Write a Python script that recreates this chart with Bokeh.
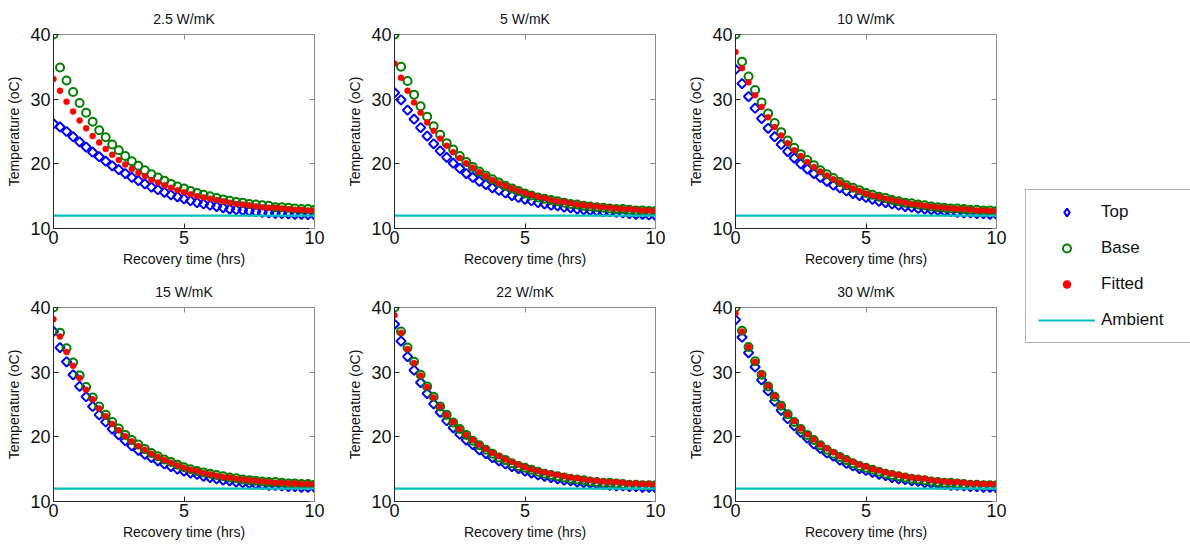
import numpy as np
from bokeh.plotting import figure
from bokeh.layouts import row, column
from bokeh.models import (ColumnDataSource, FixedTicker, LinearAxis, Legend,
                          LegendItem, Range1d)
from bokeh.embed import file_html
from bokeh.resources import INLINE

# ---------------- data ----------------
time_hrs = [i * 0.25 for i in range(41)]          # sampling times, 0..10 h
ambient_temp = 12.0

panel_titles = ["2.5 W/mK", "5 W/mK", "10 W/mK", "15 W/mK", "22 W/mK", "30 W/mK"]
series_names = ["Top", "Base", "Fitted", "Ambient"]

top_2p5 = [26.2, 25.7, 25.0, 24.2, 23.4, 22.6, 21.8, 21.1, 20.4, 19.7, 19.1, 18.5, 17.9,
           17.4, 16.9, 16.4, 16.0, 15.6, 15.2, 14.9, 14.6, 14.3, 14.0, 13.8, 13.6, 13.4,
           13.2, 13.0, 12.9, 12.8, 12.7, 12.6, 12.5, 12.4, 12.35, 12.3, 12.25, 12.2, 12.2,
           12.15, 12.1]
base_2p5 = [40.0, 34.9, 32.9, 31.1, 29.4, 27.9, 26.5, 25.2, 24.1, 23.0, 22.1, 21.2, 20.4,
            19.7, 19.0, 18.4, 17.9, 17.4, 16.9, 16.5, 16.2, 15.8, 15.5, 15.2, 15.0, 14.7,
            14.5, 14.3, 14.1, 14.0, 13.8, 13.7, 13.6, 13.5, 13.3, 13.3, 13.2, 13.1, 13.0,
            13.0, 12.9]
fitted_2p5 = [33.1, 31.3, 29.6, 28.1, 26.7, 25.5, 24.3, 23.3, 22.3, 21.4, 20.6, 19.9, 19.2,
              18.6, 18.1, 17.5, 17.1, 16.7, 16.3, 15.9, 15.6, 15.3, 15.0, 14.8, 14.6, 14.4,
              14.2, 14.0, 13.8, 13.7, 13.6, 13.4, 13.3, 13.2, 13.2, 13.1, 13.0, 12.9, 12.9,
              12.8, 12.8]

top_5 = [31.0, 29.9, 28.3, 26.9, 25.6, 24.3, 23.1, 22.0, 21.0, 20.1, 19.3, 18.5, 17.9,
         17.3, 16.8, 16.3, 15.9, 15.5, 15.1, 14.8, 14.5, 14.3, 14.0, 13.8, 13.6, 13.5,
         13.3, 13.2, 13.0, 12.9, 12.8, 12.7, 12.6, 12.6, 12.5, 12.4, 12.3, 12.2, 12.2,
         12.1, 12.0]
base_5 = [40.0, 35.0, 32.8, 30.7, 28.9, 27.3, 25.8, 24.5, 23.2, 22.2, 21.2, 20.3, 19.5,
          18.8, 18.2, 17.6, 17.1, 16.6, 16.2, 15.8, 15.4, 15.1, 14.8, 14.6, 14.4, 14.2,
          14.0, 13.8, 13.7, 13.5, 13.4, 13.3, 13.2, 13.1, 13.0, 13.0, 12.9, 12.8, 12.8,
          12.7, 12.7]
fitted_5 = [35.5, 33.3, 31.3, 29.5, 27.9, 26.4, 25.1, 23.9, 22.8, 21.8, 20.9, 20.1, 19.4,
            18.7, 18.1, 17.5, 17.0, 16.6, 16.2, 15.8, 15.5, 15.2, 14.9, 14.7, 14.4, 14.2,
            14.1, 13.9, 13.7, 13.6, 13.5, 13.4, 13.3, 13.2, 13.1, 13.0, 13.0, 12.9, 12.8,
            12.8, 12.7]

top_10 = [34.6, 32.4, 30.4, 28.6, 27.0, 25.5, 24.2, 23.0, 21.9, 20.9, 20.0, 19.2, 18.5,
          17.9, 17.3, 16.7, 16.3, 15.8, 15.4, 15.1, 14.8, 14.5, 14.2, 14.0, 13.8, 13.6,
          13.4, 13.3, 13.1, 13.0, 12.9, 12.8, 12.7, 12.6, 12.5, 12.4, 12.4, 12.3, 12.3,
          12.2, 12.2]
base_10 = [40.0, 35.8, 33.5, 31.4, 29.5, 27.8, 26.3, 24.9, 23.6, 22.5, 21.5, 20.6, 19.8,
           19.0, 18.4, 17.8, 17.2, 16.7, 16.3, 15.9, 15.5, 15.2, 14.9, 14.7, 14.4, 14.2,
           14.0, 13.9, 13.7, 13.6, 13.4, 13.3, 13.2, 13.1, 13.1, 13.0, 12.9, 12.9, 12.8,
           12.8, 12.7]
fitted_10 = [37.3, 34.8, 32.6, 30.6, 28.8, 27.2, 25.7, 24.4, 23.2, 22.1, 21.2, 20.3, 19.5,
             18.8, 18.2, 17.6, 17.1, 16.6, 16.2, 15.8, 15.4, 15.1, 14.9, 14.6, 14.4, 14.2,
             14.0, 13.8, 13.7, 13.5, 13.4, 13.3, 13.2, 13.1, 13.0, 13.0, 12.9, 12.8, 12.8,
             12.7, 12.7]

top_15 = [36.3, 33.8, 31.6, 29.6, 27.8, 26.2, 24.7, 23.4, 22.3, 21.2, 20.3, 19.4, 18.6,
          17.9, 17.3, 16.8, 16.3, 15.8, 15.4, 15.0, 14.7, 14.4, 14.2, 13.9, 13.7, 13.5,
          13.3, 13.2, 13.0, 12.9, 12.8, 12.7, 12.6, 12.5, 12.5, 12.4, 12.3, 12.3, 12.2,
          12.2, 12.2]
base_15 = [40.0, 36.1, 33.7, 31.5, 29.5, 27.7, 26.1, 24.7, 23.4, 22.3, 21.3, 20.3, 19.5,
           18.8, 18.1, 17.5, 17.0, 16.5, 16.1, 15.7, 15.3, 15.0, 14.7, 14.5, 14.3, 14.1,
           13.9, 13.7, 13.6, 13.4, 13.3, 13.2, 13.1, 13.0, 13.0, 12.9, 12.8, 12.8, 12.7,
           12.7, 12.6]
fitted_15 = [38.2, 35.5, 33.1, 31.0, 29.1, 27.3, 25.8, 24.4, 23.2, 22.0, 21.0, 20.1, 19.3,
             18.6, 18.0, 17.4, 16.9, 16.4, 16.0, 15.6, 15.2, 14.9, 14.7, 14.4, 14.2, 14.0,
             13.8, 13.7, 13.5, 13.4, 13.3, 13.2, 13.1, 13.0, 12.9, 12.9, 12.8, 12.8, 12.7,
             12.7, 12.6]

top_22 = [37.4, 34.8, 32.4, 30.3, 28.4, 26.7, 25.1, 23.8, 22.5, 21.4, 20.4, 19.5, 18.8,
          18.0, 17.4, 16.8, 16.3, 15.8, 15.4, 15.1, 14.7, 14.4, 14.1, 13.9, 13.7, 13.5,
          13.3, 13.2, 13.0, 12.9, 12.8, 12.7, 12.6, 12.5, 12.4, 12.4, 12.3, 12.3, 12.2,
          12.2, 12.1]
base_22 = [40.0, 36.3, 33.8, 31.6, 29.6, 27.8, 26.2, 24.7, 23.4, 22.2, 21.2, 20.3, 19.4,
           18.7, 18.0, 17.4, 16.8, 16.4, 15.9, 15.5, 15.2, 14.9, 14.6, 14.3, 14.1, 13.9,
           13.7, 13.5, 13.4, 13.3, 13.1, 13.0, 12.9, 12.9, 12.8, 12.7, 12.6, 12.6, 12.5,
           12.5, 12.5]
fitted_22 = [38.8, 36.1, 33.6, 31.4, 29.5, 27.7, 26.1, 24.7, 23.4, 22.3, 21.2, 20.3, 19.5,
             18.8, 18.1, 17.5, 17.0, 16.5, 16.1, 15.7, 15.3, 15.0, 14.7, 14.5, 14.3, 14.1,
             13.9, 13.7, 13.6, 13.4, 13.3, 13.2, 13.1, 13.0, 13.0, 12.9, 12.8, 12.8, 12.7,
             12.7, 12.6]

top_30 = [38.1, 35.4, 33.0, 30.8, 28.8, 27.1, 25.5, 24.1, 22.8, 21.7, 20.7, 19.8, 18.9,
          18.2, 17.5, 17.0, 16.4, 15.9, 15.5, 15.1, 14.8, 14.5, 14.2, 14.0, 13.7, 13.5,
          13.4, 13.2, 13.1, 12.9, 12.8, 12.7, 12.6, 12.5, 12.5, 12.4, 12.3, 12.3, 12.2,
          12.2, 12.1]
base_30 = [40.0, 36.4, 33.9, 31.7, 29.6, 27.8, 26.2, 24.8, 23.5, 22.3, 21.2, 20.3, 19.5,
           18.7, 18.0, 17.4, 16.9, 16.4, 15.9, 15.5, 15.2, 14.9, 14.6, 14.3, 14.1, 13.9,
           13.7, 13.5, 13.4, 13.3, 13.1, 13.0, 12.9, 12.9, 12.8, 12.7, 12.6, 12.6, 12.5,
           12.5, 12.5]
fitted_30 = [39.1, 36.3, 33.9, 31.6, 29.7, 27.9, 26.3, 24.8, 23.5, 22.4, 21.3, 20.4, 19.6,
             18.8, 18.2, 17.6, 17.0, 16.5, 16.1, 15.7, 15.4, 15.0, 14.8, 14.5, 14.3, 14.1,
             13.9, 13.7, 13.6, 13.5, 13.3, 13.2, 13.1, 13.0, 13.0, 12.9, 12.8, 12.8, 12.7,
             12.7, 12.7]

x_ticks = [0, 5, 10]
y_ticks = [10, 20, 30, 40]

# ---------------- styling ----------------
FONT = "Liberation Sans"
BLUE = "#0000ff"
GREEN = "#008000"
RED = "#ff0000"
CYAN = "#00bfbf"
AX_DARK = "#262626"
AX_LIGHT = "#8c8c8c"


def make_source(top, base, fitted):
    n = len(time_hrs)
    return ColumnDataSource(dict(t=time_hrs[:n], top=top[:n], base=base[:n],
                                 fitted=fitted[:n], amb=[ambient_temp] * n))


def draw_series(p, src, legend_style=False):
    if legend_style:
        r_top = p.scatter("t", "top", source=src, marker="diamond", size=13,
                          fill_color=None, line_color=BLUE, line_width=2.2)
    else:
        r_top = p.scatter("t", "top", source=src, marker="square", angle=np.pi / 4, size=6.6,
                          fill_color=None, line_color=BLUE, line_width=2)
    r_base = p.scatter("t", "base", source=src, marker="circle", size=8,
                       fill_color=None, line_color=GREEN, line_width=2)
    r_fit = p.scatter("t", "fitted", source=src, marker="circle", size=6,
                      fill_color=RED, line_color=RED, line_width=0.5)
    r_amb = p.line("t", "amb", source=src, line_color=CYAN, line_width=2.2)
    return r_top, r_base, r_fit, r_amb


def tick_only_axis(ticks):
    # box-edge axis: inward ticks only, labels not drawn
    return LinearAxis(ticker=FixedTicker(ticks=ticks), major_label_text_font_size="1px",
                      major_label_text_color=None, major_label_standoff=0,
                      major_tick_in=5, major_tick_out=0, minor_tick_line_color=None,
                      axis_line_color=AX_LIGHT, major_tick_line_color=AX_LIGHT)


def make_panel(title, top, base, fitted):
    p = figure(width=341, height=273, output_backend="svg", toolbar_location=None,
               x_range=Range1d(0, 10), y_range=Range1d(10, 40),
               min_border_left=53, min_border_right=27, min_border_top=33,
               min_border_bottom=45, title=title,
               x_axis_label="Recovery time (hrs)", y_axis_label="Temperature (oC)")
    p.grid.visible = False
    p.outline_line_color = None
    p.background_fill_color = "white"
    p.border_fill_color = "white"

    p.title.text_font = FONT
    p.title.text_font_size = "14px"
    p.title.text_font_style = "normal"
    p.title.align = "center"
    p.title.text_color = "#111111"
    p.title.standoff = 16

    p.xaxis.ticker = FixedTicker(ticks=x_ticks)
    p.yaxis.ticker = FixedTicker(ticks=y_ticks)
    for ax in (p.xaxis[0], p.yaxis[0]):
        ax.major_tick_in = 5
        ax.major_tick_out = 0
        ax.minor_tick_line_color = None
        ax.axis_line_color = AX_DARK
        ax.major_tick_line_color = AX_DARK
        ax.major_label_text_font = FONT
        ax.major_label_text_font_size = "18px"
        ax.major_label_text_color = "#111111"
        ax.axis_label_text_font = FONT
        ax.axis_label_text_font_size = "14px"
        ax.axis_label_text_font_style = "normal"
        ax.axis_label_text_color = "#111111"
    p.xaxis.major_label_standoff = 2
    p.xaxis.axis_label_standoff = 4
    p.yaxis.major_label_standoff = 3
    p.yaxis.axis_label_standoff = 5

    p.add_layout(tick_only_axis(x_ticks), "above")
    p.add_layout(tick_only_axis(y_ticks), "right")

    draw_series(p, make_source(top, base, fitted))
    return p


panel_data = [
    (top_2p5, base_2p5, fitted_2p5),
    (top_5, base_5, fitted_5),
    (top_10, base_10, fitted_10),
    (top_15, base_15, fitted_15),
    (top_22, base_22, fitted_22),
    (top_30, base_30, fitted_30),
]
panels = [make_panel(t, *d) for t, d in zip(panel_titles, panel_data)]

# ---------------- legend panel ----------------
pleg = figure(width=167, height=546, output_backend="svg", toolbar_location=None,
              x_range=Range1d(100, 101), y_range=Range1d(100, 101),
              x_axis_location=None, y_axis_location=None, min_border=0)
pleg.grid.visible = False
pleg.outline_line_color = None
leg_renderers = draw_series(pleg, make_source(top_30, base_30, fitted_30), legend_style=True)
legend = Legend(
    items=[LegendItem(label=name, renderers=[r]) for name, r in zip(series_names, leg_renderers)],
    location=(2, 203), orientation="vertical",
    label_text_font=FONT, label_text_font_size="17px", label_text_color="#111111",
    glyph_width=57, glyph_height=20, label_height=20, label_width=100,
    label_standoff=6, spacing=16, padding=12, margin=0,
    border_line_color="#666666", border_line_width=1,
    background_fill_color="white", background_fill_alpha=1.0)
pleg.add_layout(legend, "center")

layout = row(column(row(*panels[:3]), row(*panels[3:])), pleg)

open("out.html", "w").write(file_html(layout, INLINE))
